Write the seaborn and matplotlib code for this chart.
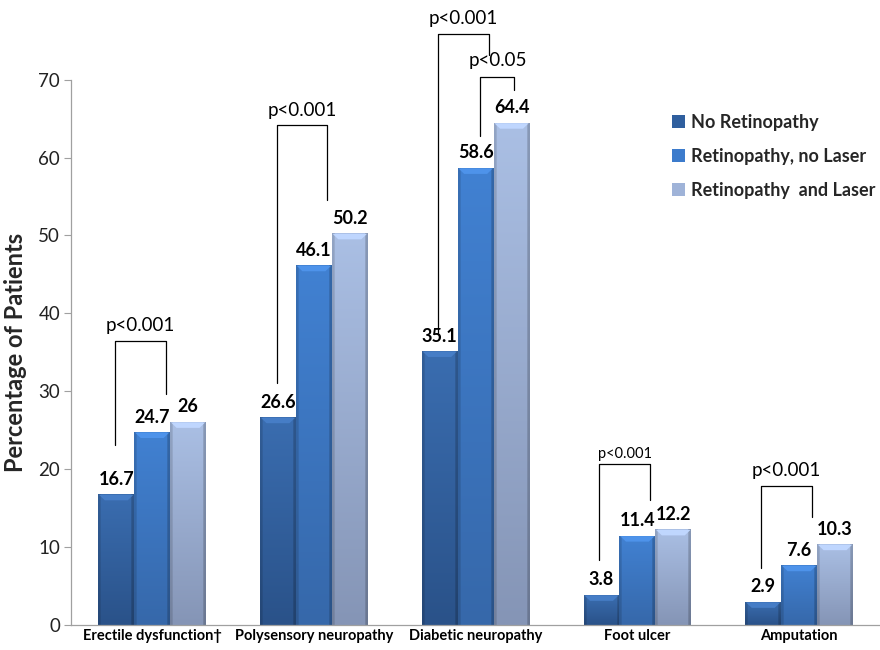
import numpy as np
import pandas as pd
import matplotlib
matplotlib.use("Agg")
import matplotlib.pyplot as plt
import seaborn as sns
from matplotlib.patches import Patch
from matplotlib.colors import to_rgb

# ---- data ----
categories = ["Erectile dysfunction\u2020", "Polysensory neuropathy", "Diabetic neuropathy",
              "Foot ulcer", "Amputation"]
series = ["No Retinopathy", "Retinopathy, no Laser", "Retinopathy  and Laser"]
no_retinopathy = [16.7, 26.6, 35.1, 3.8, 2.9]
retinopathy_no_laser = [24.7, 46.1, 58.6, 11.4, 7.6]
retinopathy_laser = [26.0, 50.2, 64.4, 12.2, 10.3]
value_labels = [["16.7", "26.6", "35.1", "3.8", "2.9"],
                ["24.7", "46.1", "58.6", "11.4", "7.6"],
                ["26", "50.2", "64.4", "12.2", "10.3"]]
y_ticks = [0, 10, 20, 30, 40, 50, 60, 70]

# significance brackets: (category, left offset, right offset, top, left bottom, right bottom, text, text y, fontsize)
brackets = [
    (0, -0.228, 0.086, 36.5, 23.1, 29.7, "p<0.001", 37.3, 13.5),
    (1, -0.228, 0.080, 64.2, 31.0, 54.6, "p<0.001", 65.0, 13.5),
    (2, -0.235, 0.080, 75.9, 37.5, 73.2, "p<0.001", 76.8, 13.5),
    (2, 0.030, 0.240, 70.4, 62.7, 68.7, "p<0.05", 71.3, 13.5),
    (3, -0.235, 0.080, 20.6, 8.4, 16.0, "p<0.001", 21.1, 10.5),
    (4, -0.235, 0.080, 17.9, 7.3, 13.8, "p<0.001", 18.7, 13.5),
]

top_colors = ["#3a6db0", "#4181d2", "#aabfe4"]
bottom_colors = ["#2a5289", "#3668aa", "#8595b6"]
legend_colors = ["#2f5f9e", "#3c7bcc", "#9fb3d8"]

df = pd.DataFrame({
    "category": categories * 3,
    "series": sum([[s] * len(categories) for s in series], []),
    "value": no_retinopathy + retinopathy_no_laser + retinopathy_laser,
})

sns.set_theme(style="white")
plt.rcParams["font.family"] = ["Lato", "DejaVu Sans"]

fig = plt.figure(figsize=(8.8, 6.5), dpi=100)
ax = fig.add_axes([0.081, 0.0385, 0.919, 0.839])

sns.barplot(data=df, x="category", y="value", hue="series", order=categories,
            hue_order=series, palette=legend_colors, width=0.666, legend=False,
            ax=ax, saturation=1, errorbar=None)

ax.set_ylim(0, 70)
ax.set_xlim(-0.5, 4.5)

# shading of bars (vertical gradient + darker side edges + bevelled top)
for k, cont in enumerate(ax.containers):
    ct = np.array(to_rgb(top_colors[k]))
    cb = np.array(to_rgb(bottom_colors[k]))
    for j, bar in enumerate(cont):
        x0, w = bar.get_x(), bar.get_width()
        h = bar.get_height()
        ny, nx = 80, 40
        t = np.linspace(0, 1, ny)[:, None, None]  # 0 top -> 1 bottom
        col = ct[None, None, :] * (1 - t) + cb[None, None, :] * t
        xs = np.linspace(0, 1, nx)
        edge = np.ones(nx)
        edge[xs < 0.07] = 0.86
        edge[xs > 0.93] = 0.80
        img = np.clip(col * edge[None, :, None], 0, 1)
        img = np.broadcast_to(img, (ny, nx, 3)).copy()
        bar.set_facecolor("none")
        bar.set_edgecolor("none")
        ax.imshow(img, extent=[x0, x0 + w, 0, h], aspect="auto",
                  interpolation="bilinear", zorder=2)
        # subtle bevel at top
        bev = 0.7
        light = np.clip(ct * 1.08 + 0.03, 0, 1)
        ax.fill([x0 + 0.005, x0 + w - 0.005, x0 + w - 0.04, x0 + 0.04],
                [h, h, h - bev, h - bev], color=light, zorder=3, lw=0)
        ax.text(x0 + w / 2, h + 0.9, value_labels[k][j], ha="center", va="bottom",
                fontsize=13, fontweight="bold", color="black", zorder=4)

ax.set_aspect("auto")
ax.set_xlim(-0.5, 4.5)
ax.set_ylim(0, 70)

# brackets
for cat, lo, ro, top, lb, rb, txt, ty, fs in brackets:
    xl, xr = cat + lo, cat + ro
    ax.plot([xl, xl, xr, xr], [lb, top, top, rb], color="black", lw=0.9,
            clip_on=False, zorder=5)
    ax.text((xl + xr) / 2, ty, txt, ha="center", va="bottom", fontsize=fs,
            color="black", clip_on=False, zorder=5)

# axes styling
ax.set_yticks(y_ticks)
ax.set_yticklabels([str(v) for v in y_ticks], fontsize=13.5, color="#222222")
ax.set_xticks(range(len(categories)))
ax.set_xticklabels(categories, fontsize=10.5, fontweight="bold", color="black")
ax.set_xticks(np.arange(-0.5, 4.6, 1.0), minor=True)
ax.tick_params(axis="x", which="major", length=0, pad=3)
ax.tick_params(axis="x", which="minor", length=5, color="#a0a0a0", width=0.8, direction="out")
ax.tick_params(axis="y", which="major", length=5, color="#a0a0a0", width=0.8,
               direction="out", left=True, pad=3)
for s in ["top", "right"]:
    ax.spines[s].set_visible(False)
for s in ["left", "bottom"]:
    ax.spines[s].set_color("#a0a0a0")
    ax.spines[s].set_linewidth(0.9)
ax.set_xlabel("")
ax.set_ylabel("Percentage of Patients", fontsize=17, fontweight="bold", labelpad=8)

handles = [Patch(facecolor=c, edgecolor="none") for c in legend_colors]
fig.legend(handles, series, loc="upper left", bbox_to_anchor=(0.764, 0.825),
           frameon=False, handlelength=0.7, handleheight=0.7, handletextpad=0.35,
           labelspacing=0.95, borderpad=0, borderaxespad=0,
           prop={"weight": "bold", "size": 13})

fig.savefig("out.png", dpi=100)
